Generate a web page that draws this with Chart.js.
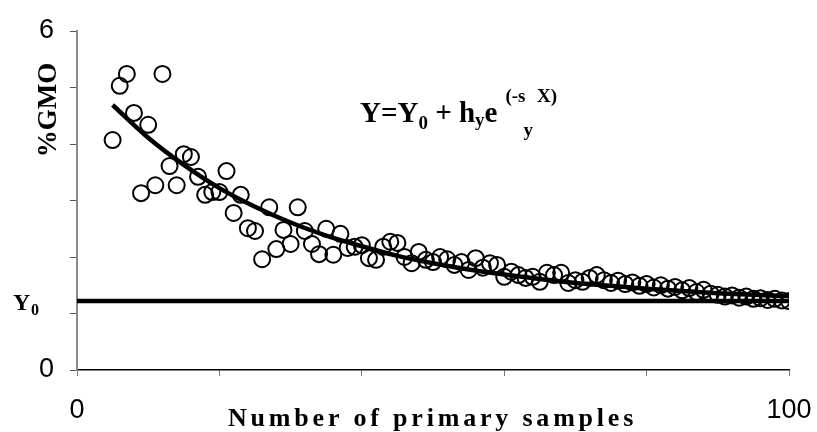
<!DOCTYPE html>
<html>
<head>
<meta charset="utf-8">
<script src="https://cdn.jsdelivr.net/npm/chart.js@4.4.0/dist/chart.umd.min.js"></script>
<style>
  body { margin: 0; background: #fff; }
  #wrap { width: 817px; height: 432px; }
</style>
</head>
<body>
<div id="wrap"><canvas id="gmo-chart" width="817" height="432"></canvas></div>
<script>
// observed %GMO for each number of primary samples
const sampleCounts = [
  5, 6, 7, 8, 9, 10, 11, 12, 13, 14, 15, 16, 17, 18, 19, 20,
  21, 22, 23, 24, 25, 26, 27, 28, 29, 30, 31, 32, 33, 34, 35, 36,
  37, 38, 39, 40, 41, 42, 43, 44, 45, 46, 47, 48, 49, 50, 51, 52,
  53, 54, 55, 56, 57, 58, 59, 60, 61, 62, 63, 64, 65, 66, 67, 68,
  69, 70, 71, 72, 73, 74, 75, 76, 77, 78, 79, 80, 81, 82, 83, 84,
  85, 86, 87, 88, 89, 90, 91, 92, 93, 94, 95, 96, 97, 98, 99, 100,
];
const gmoValues = [
  4.07, 5.03, 5.24, 4.55, 3.13, 4.34, 3.27, 5.24, 3.61, 3.27, 3.82, 3.77, 3.42, 3.10, 3.15, 3.15,
  3.52, 2.78, 3.10, 2.51, 2.46, 1.96, 2.88, 2.14, 2.48, 2.23, 2.88, 2.46, 2.23, 2.05, 2.50, 2.04,
  2.41, 2.16, 2.18, 2.21, 1.98, 1.95, 2.18, 2.27, 2.25, 2.00, 1.89, 2.09, 1.95, 1.91, 2.00, 1.96,
  1.86, 1.91, 1.77, 1.98, 1.81, 1.89, 1.86, 1.65, 1.74, 1.68, 1.63, 1.65, 1.56, 1.72, 1.68, 1.72,
  1.54, 1.59, 1.56, 1.63, 1.68, 1.59, 1.54, 1.58, 1.52, 1.55, 1.49, 1.52, 1.46, 1.50, 1.44, 1.47,
  1.41, 1.45, 1.38, 1.42, 1.35, 1.33, 1.30, 1.32, 1.28, 1.30, 1.26, 1.27, 1.24, 1.26, 1.23, 1.22,
];

// fitted curve
const fitX = [5, 10, 15, 20, 25, 30, 35, 40, 45, 50, 55, 60, 65, 70, 75, 80, 85, 90, 95, 100];
const fitY = [4.69, 4.11, 3.63, 3.22, 2.89, 2.61, 2.38, 2.19, 2.02, 1.89, 1.78, 1.69, 1.61, 1.54, 1.49, 1.44, 1.40, 1.36, 1.33, 1.31];

// asymptote Y0
const baseX = [0, 100];
const baseY = [1.22, 1.22];

const xTickLabels = { 0: '0', 100: '100' };
const yTickLabels = { 0: '0', 6: '6' };

const serif = '"Liberation Serif", "Times New Roman", serif';
const sans = '"Liberation Sans", Arial, sans-serif';

const annotations = {
  id: 'annotations',
  afterDraw(chart) {
    const { ctx } = chart;
    ctx.save();
    ctx.fillStyle = '#000';
    ctx.textAlign = 'left';
    ctx.textBaseline = 'alphabetic';

    // equation
    let x = 360;
    const base = 122;
    const big = 'bold 29px ' + serif;
    const small = 'bold 19px ' + serif;
    ctx.font = big;
    ctx.fillText('Y=Y', x, base);
    x += ctx.measureText('Y=Y').width;
    ctx.font = small;
    ctx.fillText('0', x, base + 7);
    x += ctx.measureText('0').width;
    ctx.font = big;
    ctx.fillText(' + h', x, base);
    x += ctx.measureText(' + h').width;
    ctx.font = small;
    ctx.fillText('y', x, base + 4);
    x += ctx.measureText('y').width;
    ctx.font = big;
    ctx.fillText('e', x, base);
    x += ctx.measureText('e').width + 8;
    ctx.font = small;
    ctx.fillText('(-s', x, base - 20);
    x += ctx.measureText('(-s').width;
    ctx.fillText('y', x - 2, base + 14);
    x += ctx.measureText('y').width + 2;
    ctx.fillText('X)', x, base - 20);

    // Y0 label
    ctx.font = 'bold 24px ' + serif;
    ctx.fillText('Y', 13, 310);
    ctx.font = 'bold 16px ' + serif;
    ctx.fillText('0', 31, 315);

    // y title
    ctx.save();
    ctx.translate(49, 110);
    ctx.rotate(-Math.PI / 2);
    ctx.font = 'bold 27px ' + serif;
    ctx.textAlign = 'center';
    ctx.textBaseline = 'middle';
    ctx.fillText('%GMO', 0, 0);
    ctx.restore();

    // x title
    ctx.font = 'bold 26px ' + serif;
    ctx.letterSpacing = '3.8px';
    ctx.fillText('Number of primary samples', 228, 426);
    ctx.restore();
  },
};

const ctx = document.getElementById('gmo-chart').getContext('2d');
const gmoChart = new Chart(ctx, {
  type: 'scatter',
  data: {
    datasets: [
      {
        label: 'Y0',
        data: baseX.map((v, i) => ({ x: v, y: baseY[i] })),
        showLine: true,
        borderColor: '#000',
        borderWidth: 4.5,
        pointRadius: 0,
        order: 3,
      },
      {
        label: 'fit',
        data: fitX.map((v, i) => ({ x: v, y: fitY[i] })),
        showLine: true,
        borderColor: '#000',
        borderWidth: 4.5,
        cubicInterpolationMode: 'monotone',
        pointRadius: 0,
        order: 2,
      },
      {
        label: '%GMO',
        data: sampleCounts.map((v, i) => ({ x: v, y: gmoValues[i] })),
        borderColor: '#000',
        backgroundColor: 'rgba(0,0,0,0)',
        borderWidth: 2,
        pointRadius: 8,
        order: 1,
      },
    ],
  },
  options: {
    responsive: false,
    animation: false,
    layout: { padding: { left: 0, top: 31, right: 28, bottom: 0 } },
    plugins: {
      legend: { display: false },
      tooltip: { enabled: false },
    },
    scales: {
      x: {
        type: 'linear',
        min: 0,
        max: 100,
        ticks: {
          stepSize: 20,
          color: '#000',
          font: { family: sans, size: 27 },
          padding: 18,
          maxRotation: 0,
          autoSkip: false,
          callback: (v) => xTickLabels[v] || '',
        },
        grid: {
          drawOnChartArea: false,
          drawTicks: true,
          tickLength: 6,
          color: '#777',
        },
        border: { display: true, color: '#000', width: 1.5 },
        afterFit: (scale) => {
          scale.height = 62;
          scale.paddingLeft = 0;
          scale.paddingRight = 0;
        },
      },
      y: {
        type: 'linear',
        min: 0,
        max: 6,
        ticks: {
          stepSize: 1,
          color: '#000',
          font: { family: sans, size: 27 },
          padding: 16,
          callback: (v) => yTickLabels[v] || '',
        },
        grid: {
          drawOnChartArea: false,
          drawTicks: true,
          tickLength: 7,
          color: '#555',
        },
        border: { display: true, color: '#888', width: 2 },
        afterFit: (scale) => {
          scale.width = 77;
          scale.paddingTop = 0;
          scale.paddingBottom = 0;
        },
      },
    },
  },
  plugins: [annotations],
});
</script>
</body>
</html>
